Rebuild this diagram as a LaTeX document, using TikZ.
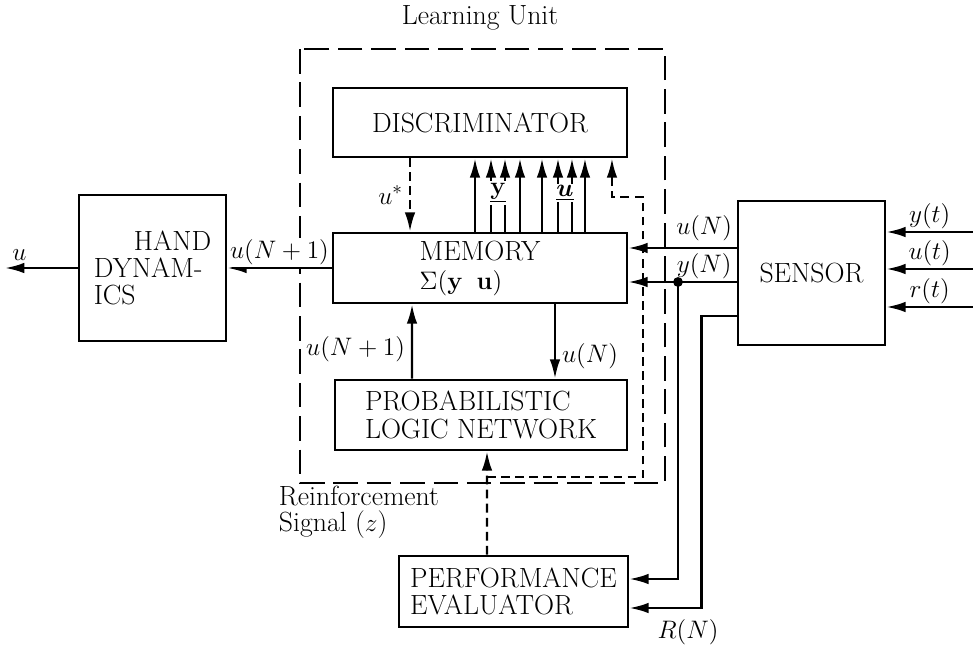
\documentclass[tikz,border=0pt]{standalone}
\usepackage{bm}
\usetikzlibrary{arrows.meta,calc}

\begin{document}
\begin{tikzpicture}[x=0.02cm, y=-0.02cm,
    box/.style={draw, line width=1.5pt, align=left, font=\fontsize{15.8}{15.5}\selectfont},
    arr/.style={line width=1.4pt, -{Latex[length=11pt,width=6pt]}},
    dsh/.style={dash pattern=on 5pt off 3pt},
    lubox/.style={line width=1.5pt, dash pattern=on 14pt off 5pt},
    lbl/.style={font=\fontsize{15.8}{14.5}\selectfont}]

    \useasboundingbox (0,0) rectangle (973,645);

    % learning unit
    \draw[lubox] (300,49) rectangle (665,483);
    \node[lbl] (lutitle) at (480,18) {Learning Unit};

    \node[box, minimum width=5.88cm, minimum height=1.38cm] (disc) at (480,122.5) {DISCRIMINATOR};
    \node[box, minimum width=5.88cm, minimum height=1.4cm] (mem) at (480,268) {MEMORY\\[1pt]$\Sigma(\mathbf{y}\;\;\mathbf{u})$};
    \node[box, minimum width=5.84cm, minimum height=1.4cm] (pln) at (481,415) {PROBABILISTIC\\LOGIC NETWORK};
    \node[box, minimum width=2.94cm, minimum height=2.92cm] (hand) at (152.5,268) {\hspace*{0.8cm}HAND\\DYNAM-\\ICS};
    \node[box, minimum width=2.94cm, minimum height=2.88cm] (sensor) at (811.5,273) {SENSOR};
    \node[box, minimum width=4.58cm, minimum height=1.42cm] (perf) at (513.5,591.5) {PERFORMANCE\\EVALUATOR};

    % memory out to hand
    \draw[arr] (mem.west) -- (hand.east) node[lbl, midway, above, fill=white, inner sep=1pt] (lmo) {$u(N+1)$};
    \coordinate (out) at (5,268);
    \draw[arr] (hand.west) -- (out) node[lbl, pos=0.8, above] (lu) {$u$};

    % memory <-> network
    \draw[arr] ([xshift=-1.38cm]pln.north) -- ([xshift=-1.36cm]mem.south) node[lbl, pos=0.4, left] (lpu) {$u(N+1)$};
    \draw[arr] ([xshift=1.5cm]mem.south) -- ([xshift=1.48cm]pln.north) node[lbl, pos=0.7, right] (lpd) {$u(N)$};

    % discriminator
    \draw[arr, dsh] ([xshift=-1.4cm]disc.south) -- ([xshift=-1.4cm]mem.north) node[lbl, midway, left] (lus) {$u^*$};
    \foreach \dx in {-0.1,0.22,0.5,0.8,1.24,1.56,1.84,2.1}
      \draw[arr] ([xshift=\dx cm]mem.north) -- ([xshift=\dx cm]disc.south);
    \node[lbl, fill=white, inner sep=1pt] (vy) at (498,193) {$\underline{\mathbf{y}}$};
    \node[lbl, fill=white, inner sep=1pt] (vu) at (565,193) {$\underline{\bm{u}}$};

    % sensor
    \coordinate (sU) at ([yshift=0.5cm]sensor.west);
    \coordinate (sY) at ([yshift=-0.18cm]sensor.west);
    \coordinate (sR) at ([yshift=-0.86cm]sensor.west);
    \draw[arr] (sU) -- (sU -| mem.east) node[lbl, pos=0.3, above] (lsu) {$u(N)$};
    \draw[arr] (sY) -- (sY -| mem.east) node[lbl, pos=0.3, above, inner sep=1pt] (lsy) {$y(N)$};
    \coordinate (dY) at (678,0 |- sY);
    \fill (dY) circle (2.8pt);
    \draw[arr] (dY) |- ([yshift=0.25cm]perf.east);
    \draw[arr] (sR) -- ++(-0.7cm,0) coordinate (rc) |- ([yshift=-0.33cm]perf.east);
    \node[lbl] (lrn) at (688,632) {$R(N)$};

    \foreach \yy/\tx in {232/y, 269/u, 307/r} {
      \coordinate (in\tx) at (973,\yy);
      \draw[arr] (in\tx) -- (sensor.east |- in\tx) node[lbl, midway, above, inner sep=1pt] {$\tx(t)$};
    }

    % reinforcement signal
    \coordinate (rj) at (487,477);
    \coordinate (fb) at (643,197);
    \draw[arr, dsh] ([xshift=-0.53cm]perf.north) -- (rj |- pln.south);
    \draw[arr, dsh] (rj) -| (fb) -| ([xshift=2.64cm]disc.south);
    \node[lbl, align=left] (rsig) at (359,512) {Reinforcement\\Signal ($z$)};

\end{tikzpicture}
\end{document}
